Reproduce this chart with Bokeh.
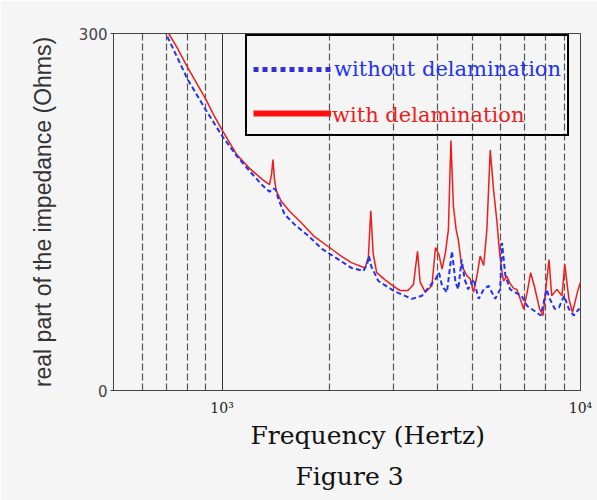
from bokeh.plotting import figure
from bokeh.models import FixedTicker, Legend, LegendItem, Title
from bokeh.embed import file_html
from bokeh.resources import INLINE

# ---- data ----
freq_with = [690, 710, 750, 800, 850, 900, 950, 1000, 1100, 1200, 1300, 1357, 1375, 1387,
             1400, 1416, 1463, 1550, 1664, 1800, 1977, 2150, 2296, 2506, 2560, 2600, 2640,
             2700, 2850, 3000, 3140, 3300, 3420, 3510, 3570, 3690, 3850, 3940, 4030, 4110,
             4200, 4280, 4350, 4420, 4500, 4560, 4660, 4830, 4920, 5030, 5140, 5250, 5370,
             5480, 5600, 5720, 5850, 5950, 6040, 6100, 6230, 6360, 6500, 6640, 6790, 6940,
             7100, 7260, 7430, 7690, 7860, 8040, 8170, 8310, 8590, 8880, 9040, 9280, 9500,
             9800, 10000]
z_with = [307, 300, 288, 272, 258, 245, 231, 219, 198, 186, 177, 173, 182, 194,
          178, 168, 159, 150, 141, 130, 121, 113, 107.5, 103, 112, 151, 115,
          99, 93, 88, 84, 84, 89, 117, 91, 82.5, 88, 120, 114, 102,
          116, 135, 210, 155, 135, 127, 105, 96, 94, 82.5, 96, 113, 105,
          135, 202, 169, 141, 115, 100, 92, 96, 90, 86, 85, 77, 68.5,
          82.5, 99, 88, 68.5, 63, 91, 110, 79.6, 85, 79.6, 106, 77, 65.7,
          82.5, 91]

freq_without = [680, 697, 750, 800, 900, 1000, 1100, 1205, 1300, 1357, 1385, 1410, 1440,
                1495, 1600, 1740, 1900, 2018, 2296, 2480, 2540, 2570, 2610, 2730, 2900,
                3000, 3100, 3390, 3610, 3770, 3940, 4030, 4110, 4240, 4380, 4480, 4560,
                4660, 4750, 4860, 5030, 5200, 5370, 5540, 5780, 5970, 6040, 6170, 6360,
                6570, 6850, 7100, 7430, 7750, 8040, 8210, 8480, 8720, 9000, 9280, 9570,
                9900, 10000]
z_without = [310, 300, 280, 262, 236, 214, 197, 183, 172, 167, 170, 169, 160,
             148, 139, 130, 119, 114, 103, 100.5, 106, 113, 104, 92, 87,
             84, 82, 77, 79.6, 86.6, 93.6, 99, 88, 82.5, 117, 91, 85,
             110, 93.6, 85, 93.6, 77, 85, 88, 77, 85, 124, 97, 85,
             82.5, 79.6, 71, 67, 63, 85, 77, 68.5, 70, 79.6, 68.5, 63,
             68.5, 66]

series_names = ["without delamination", "with delamination"]
x_major_ticks = [1000, 10000]
x_minor_ticks = [600, 700, 800, 900, 2000, 3000, 4000, 5000, 6000, 7000, 8000, 9000]
x_tick_labels = {1000: "10\u00b3", 10000: "10\u2074"}
y_ticks = [0, 300]

BG = "#f5f5f5"
BLUE = "#2233ee"
RED = "#ee1c1c"

p = figure(width=597, height=500, x_axis_type="log", x_range=(498, 10000),
           y_range=(0, 300), output_backend="svg", toolbar_location=None,
           min_border_left=113, min_border_right=17, min_border_top=33,
           min_border_bottom=108)
p.background_fill_color = BG
p.border_fill_color = BG
p.outline_line_color = "#444444"

# grid: solid at decades, dashed at minor log positions
p.xaxis.ticker = FixedTicker(ticks=x_major_ticks, minor_ticks=x_minor_ticks)
p.xgrid.grid_line_color = "#333333"
p.xgrid.grid_line_width = 1
p.xgrid.minor_grid_line_color = "#555555"
p.xgrid.minor_grid_line_width = 1.2
p.xgrid.minor_grid_line_dash = "7 3"
p.ygrid.grid_line_color = None

p.xaxis.major_label_overrides = x_tick_labels
p.xaxis.major_tick_line_color = None
p.xaxis.minor_tick_line_color = None
p.xaxis.axis_line_color = "#444444"
p.xaxis.major_label_text_font = "DejaVu Serif"
p.xaxis.major_label_text_font_size = "14px"
p.xaxis.major_label_text_color = "#222222"
p.xaxis.major_label_standoff = 3

p.yaxis.ticker = FixedTicker(ticks=y_ticks)
p.yaxis.minor_tick_line_color = None
p.yaxis.major_tick_out = 3
p.yaxis.major_tick_in = 0
p.yaxis.major_tick_line_color = "#444444"
p.yaxis.axis_line_color = "#444444"
p.yaxis.major_label_text_font = "DejaVu Sans"
p.yaxis.major_label_text_font_size = "15px"
p.yaxis.major_label_text_color = "#444444"
p.yaxis.major_label_standoff = 3
p.yaxis.axis_label = "real part of the impedance (Ohms)"
p.yaxis.axis_label_text_font = "Liberation Sans"
p.yaxis.axis_label_text_font_size = "23px"
p.yaxis.axis_label_text_font_style = "normal"
p.yaxis.axis_label_text_color = "#333333"
p.yaxis.axis_label_standoff = 20

# curves
p.line(freq_with, z_with, line_color=RED, line_width=1.5)
p.line(freq_without, z_without, line_color=BLUE, line_width=2, line_dash="5 3")

# legend glyph renderers (single off-range point each, nothing visible in the plot)
leg_blue = p.line(freq_without[:1], z_without[:1], line_color="#3030d8", line_width=5,
                  line_dash="5 4")
leg_red = p.line(freq_with[:1], z_with[:1], line_color="#ff1010", line_width=6)
leg_red_txt = p.line(freq_with[:1], z_with[:1], line_color=RED, line_width=5, line_alpha=0)

common = dict(label_text_font="DejaVu Serif", label_text_font_size="21px",
              glyph_width=78, glyph_height=30, label_height=30, label_standoff=3,
              margin=0, border_line_color=None, background_fill_alpha=0)
legend1 = Legend(items=[LegendItem(label=series_names[0], renderers=[leg_blue]),
                        LegendItem(label=" ", renderers=[leg_red])],
                 location=(132, 254), padding=6, spacing=14,
                 title=" ", title_text_font_size="8px", title_standoff=3,
                 label_text_color=BLUE, **common)
legend1.border_line_color = "black"
legend1.border_line_alpha = 1
legend1.border_line_width = 2.5
legend2 = Legend(items=[LegendItem(label=series_names[1], renderers=[leg_red_txt])],
                 location=(138, 260), padding=0, spacing=0,
                 label_text_color=RED, **common)
p.add_layout(legend1, "center")
p.add_layout(legend2, "center")

t1 = Title(text="Frequency (Hertz)", align="left", offset=137,
           text_font="DejaVu Serif", text_font_size="25px", text_font_style="normal",
           text_color="#111111", standoff=0)
t2 = Title(text="Figure 3", align="left", offset=182,
           text_font="DejaVu Serif", text_font_size="25px", text_font_style="normal",
           text_color="#111111", standoff=20)
p.add_layout(t1, "below")
p.add_layout(t2, "below")

open("out.html", "w").write(file_html(p, INLINE))
